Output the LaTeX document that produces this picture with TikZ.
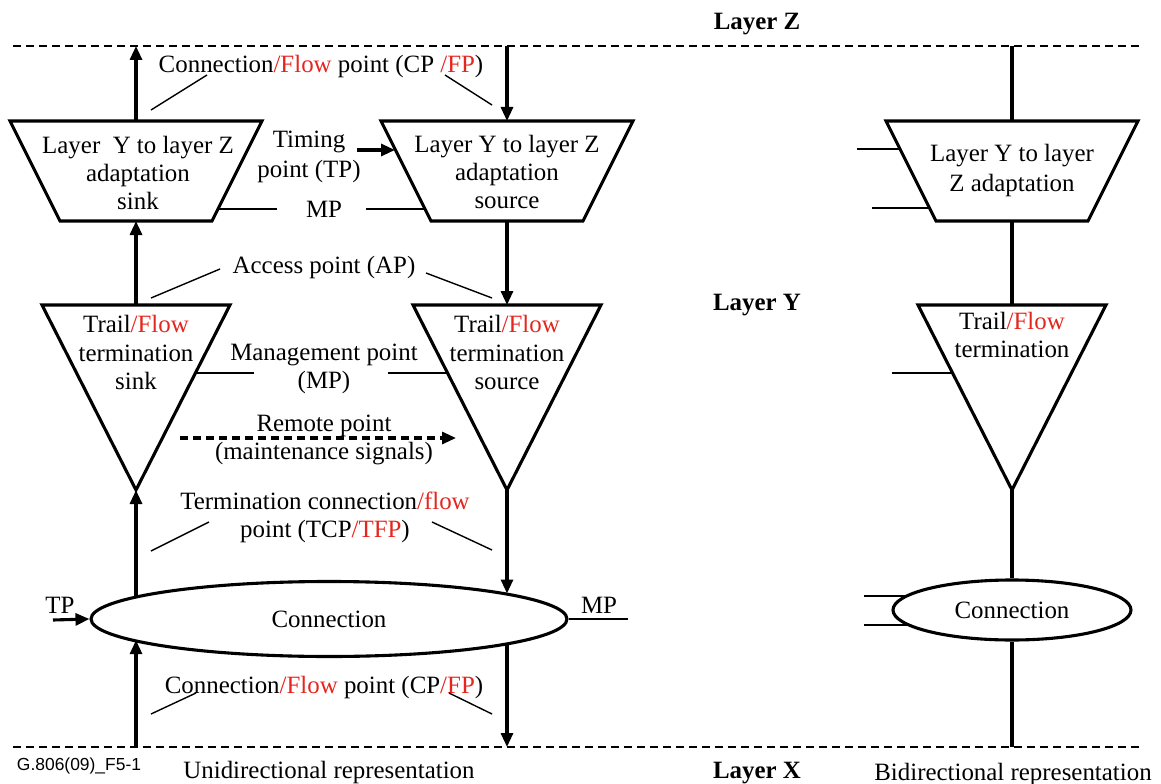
\documentclass[tikz,border=0pt]{standalone}
\usepackage{fontspec}
\setmainfont{Liberation Serif}
\newfontfamily\figidfont{Liberation Sans}
\usetikzlibrary{arrows.meta, shapes.geometric}
\definecolor{flowred}{RGB}{228,38,30}
\newcommand{\fl}[1]{\textcolor{flowred}{#1}}

\begin{document}
\begin{tikzpicture}
  [x=1bp, y=-1bp,
   >={Triangle[length=14bp, width=12bp]},
   wire/.style={line width=3.1bp},
   lead/.style={line width=1.4bp},
   layerline/.style={line width=2.2bp, dash pattern=on 8bp off 5bp},
   txt/.style={inner sep=0pt, anchor=base, align=center, font=\fontsize{25}{28}\selectfont},
   connbox/.style={ellipse, draw, line width=3.1bp, inner sep=0pt, font=\fontsize{25}{28}\selectfont}]
  \useasboundingbox (0,0) rectangle (1161,784);
  % layer boundaries
  \coordinate (ztop) at (13,46);
  \coordinate (xbot) at (13,747);
  \draw [layerline] (ztop) -- (1143,46);
  \draw [layerline] (xbot) -- (1143,747);
  \node (layz) at (757,30) [txt] {\textbf{Layer Z}};
  \node (layy) at (757,310) [txt] {\textbf{Layer Y}};
  \node (layx) at (757,778) [txt] {\textbf{Layer X}};
  % adaptation and termination shapes
  \foreach \c/\n in {136/sink, 507/src, 1012/bi}{
    \draw [wire] (\c-126,121) -- (\c+126,121) -- (\c+76,221) -- (\c-76,221) -- cycle;
    \draw [wire] (\c-94,305) -- (\c+94,305) -- (\c,490) -- cycle;
    \coordinate (\n-at) at (\c,121);
    \coordinate (\n-ab) at (\c,221);
    \coordinate (\n-tt) at (\c,305);
    \coordinate (\n-tv) at (\c,490);
  }
  \node (sinkadapt) at (138,209) [txt] {Layer~ Y to layer Z\\adaptation\\sink};
  \node (srcadapt) at (507,208) [txt] {Layer Y to layer Z\\adaptation\\source};
  \node (biadapt) at (1012,191) [txt] {Layer Y to layer\\[2pt]Z adaptation};
  \node (sinkterm) at (136,389) [txt] {Trail\fl{/Flow}\\[1pt]termination\\sink};
  \node (srcterm) at (507,389) [txt] {Trail\fl{/Flow}\\[1pt]termination\\source};
  \node (biterm) at (1012,357) [txt] {Trail\fl{/Flow}\\termination};
  \node (conn) at (329,619) [connbox, minimum width=476bp, minimum height=75bp] {Connection};
  \node (biconn) at (1012,610) [connbox, minimum width=238bp, minimum height=60bp] {Connection};
  % point labels
  \node (cptop) at (321,73) [txt] {Connection\fl{/Flow} point (CP \fl{/FP})};
  \node (timing) at (309,177) [txt] {Timing\\[2pt]point (TP)};
  \node (mptop) at (324,217) [txt] {MP};
  \node (ap) at (324,273) [txt] {Access point (AP)};
  \node (mgmt) at (324,388) [txt] {Management point\\(MP)};
  \node (remote) at (324,459) [txt] {Remote point\\(maintenance signals)};
  \node (tcp) at (325,537) [txt] {Termination connection\fl{/flow}\\point (TCP\fl{/TFP})};
  \node (tpin) at (60,613) [txt] {TP};
  \node (mpout) at (599,613) [txt] {MP};
  \node (cpbot) at (324,693) [txt] {Connection\fl{/Flow} point (CP\fl{/FP})};
  \node (figid) at (79,770) [txt, font=\figidfont\fontsize{17.5}{19}\selectfont] {G.806(09)\_F5-1};
  \node (uni) at (329,778) [txt] {Unidirectional representation};
  \node (bidi) at (1013,780) [txt] {Bidirectional representation};
  % sink side (upward)
  \draw [wire, ->] (sink-at) -- (sink-at |- ztop);
  \draw [wire, ->] (sink-tt) -- (sink-ab);
  \draw [wire, ->] (sink-tv |- conn.173.5) -- (sink-tv);
  \draw [wire, ->] (sink-tv |- xbot) -- (sink-tv |- conn.186.5);
  % source side (downward)
  \draw [wire, ->] (src-at |- ztop) -- (src-at);
  \draw [wire, ->] (src-ab) -- (src-tt);
  \draw [wire, ->] (src-tv) -- (src-tv |- conn.8);
  \draw [wire, ->] (src-tv |- conn.352) -- (src-tv |- xbot);
  % bidirectional
  \draw [wire] (bi-at |- ztop) -- (bi-at);
  \draw [wire] (bi-ab) -- (bi-tt);
  \draw [wire] (bi-tv) -- (biconn.north);
  \draw [wire] (biconn.south) -- (bi-tv |- xbot);
  % timing and remote points
  \draw [wire, ->] (357,150) -- (395,150);
  \draw [wire, ->] (53,620) -- (conn.west);
  \draw [wire, ->, dash pattern=on 8bp off 5bp] (180,438) -- (456,438);
  \draw [lead] (conn.east) -- ++(59,0);
  % leader lines
  \foreach \a/\b in {{(207,75)}/{(151,110)}, {(445,75)}/{(492,105)},
                     {(220,269)}/{(151,298)}, {(426,273)}/{(492,298)},
                     {(209,522)}/{(151,551)}, {(432,522)}/{(492,550)},
                     {(196,693)}/{(151,714)}, {(449,693)}/{(492,714)},
                     {(219,209)}/{(277,209)}, {(366,209)}/{(424,209)},
                     {(196,373)}/{(254,373)}, {(388,373)}/{(447,373)},
                     {(857,149)}/{(899,149)}, {(872,208)}/{(928,208)},
                     {(892,373)}/{(951,373)},
                     {(864,596)}/{(907,596)}, {(864,625)}/{(909,625)}}
    \draw [lead] \a -- \b;
\end{tikzpicture}
\end{document}
